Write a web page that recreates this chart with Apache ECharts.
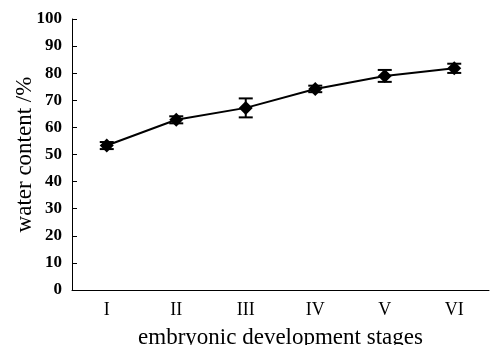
<!DOCTYPE html>
<html>
<head>
<meta charset="utf-8">
<script src="https://cdn.jsdelivr.net/npm/echarts@6/dist/echarts.min.js"></script>
<style>
  html, body { margin: 0; padding: 0; background: #fff; }
  #chart { width: 490px; height: 345px; }
</style>
</head>
<body>
<div id="chart"></div>
<script>
  var stages = ['I', 'II', 'III', 'IV', 'V', 'VI'];
  var waterContent = [53.3, 62.8, 67.2, 74.2, 79.0, 81.8];
  var errors = [1.3, 1.3, 3.5, 1.2, 2.2, 1.7];
  var yTicks = [0, 10, 20, 30, 40, 50, 60, 70, 80, 90, 100];

  var serif = '"Liberation Serif", "Times New Roman", serif';

  // error bar rows: [index, low, high]
  var errData = stages.map(function (s, i) {
    return [i, waterContent[i] - errors[i], waterContent[i] + errors[i]];
  });

  var chart = echarts.init(document.getElementById('chart'));

  chart.setOption({
    animation: false,
    grid: { left: 72, right: 1, top: 19, bottom: 55, outerBoundsMode: 'none', containLabel: false },
    xAxis: {
      type: 'category',
      data: stages,
      boundaryGap: true,
      name: 'embryonic development stages',
      nameLocation: 'middle',
      nameGap: 36,
      nameMoveOverlap: false,
      nameTextStyle: { fontFamily: serif, fontSize: 23, color: '#000' },
      axisLine: { lineStyle: { color: '#000', width: 1 } },
      axisTick: { inside: true, length: 5, lineStyle: { color: '#000' } },
      axisLabel: { fontFamily: serif, fontSize: 18, color: '#000', margin: 11 }
    },
    yAxis: {
      type: 'value',
      min: yTicks[0],
      max: yTicks[yTicks.length - 1],
      interval: 10,
      name: 'water content /%',
      nameLocation: 'middle',
      nameGap: 36,
      nameMoveOverlap: false,
      nameTextStyle: { fontFamily: serif, fontSize: 23, color: '#000' },
      axisLine: { show: true, lineStyle: { color: '#000', width: 1 } },
      axisTick: { show: true, inside: true, length: 5, lineStyle: { color: '#000' } },
      axisLabel: { fontFamily: serif, fontSize: 17, fontWeight: 'bold', color: '#000', margin: 10 },
      splitLine: { show: false }
    },
    series: [
      {
        type: 'line',
        data: waterContent,
        symbol: 'diamond',
        symbolSize: 14,
        itemStyle: { color: '#000' },
        lineStyle: { color: '#000', width: 2 },
        z: 3
      },
      {
        type: 'custom',
        data: errData,
        z: 4,
        renderItem: function (params, api) {
          var x = api.value(0);
          var lo = api.coord([x, api.value(1)]);
          var hi = api.coord([x, api.value(2)]);
          var hw = 7;
          var style = { stroke: '#000', lineWidth: 2 };
          return {
            type: 'group',
            children: [
              { type: 'line', shape: { x1: lo[0], y1: lo[1], x2: hi[0], y2: hi[1] }, style: style },
              { type: 'line', shape: { x1: lo[0] - hw, y1: lo[1], x2: lo[0] + hw, y2: lo[1] }, style: style },
              { type: 'line', shape: { x1: hi[0] - hw, y1: hi[1], x2: hi[0] + hw, y2: hi[1] }, style: style }
            ]
          };
        }
      }
    ]
  });
</script>
</body>
</html>
